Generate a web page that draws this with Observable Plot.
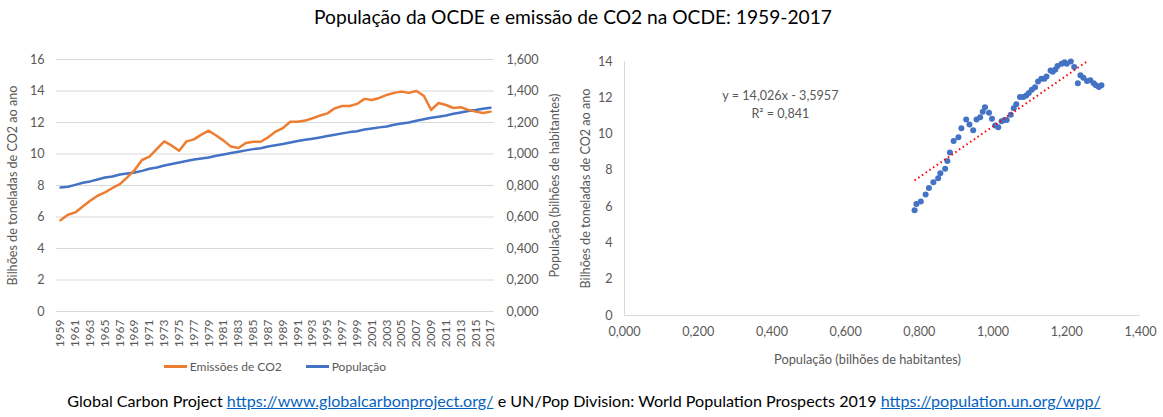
<!DOCTYPE html>
<html>
<head>
<meta charset="utf-8">
<script src="https://cdn.jsdelivr.net/npm/d3@7"></script>
<script src="https://cdn.jsdelivr.net/npm/@observablehq/plot@0.6"></script>
<style>
  html, body { margin: 0; padding: 0; background: #fff; }
  body { width: 1163px; height: 417px; position: relative; overflow: hidden; font-family: Lato, "Open Sans", sans-serif; }
  #title { position: absolute; top: 5px; left: 0; width: 1146px; text-align: center; font-size: 19.2px; color: #000; }
  #left { position: absolute; top: 40px; left: 0; }
  #right { position: absolute; top: 40px; left: 575px; }
  #legend { position: absolute; top: 356px; left: 0; width: 550px; text-align: center; font-size: 12px; color: #595959; }
  #legend span.item { display: inline-flex; align-items: center; margin: 0 12px; }
  #legend span.sw { display: inline-block; width: 23px; height: 3px; margin-right: 3px; }
  #footer { position: absolute; top: 391px; left: 0; width: 1168px; text-align: center; font-size: 16.1px; color: #000; }
  #footer a { color: #0563C1; text-decoration: underline; }
</style>
</head>
<body>
<div id="title"></div>
<div id="left"></div>
<div id="legend"></div>
<div id="right"></div>
<div id="footer"></div>
<script>
// ---------- data ----------
const years = d3.range(1959, 2018);
const co2 = [5.80, 6.14, 6.29, 6.67, 7.03, 7.35, 7.56, 7.84, 8.09, 8.52,
  8.98, 9.62, 9.83, 10.32, 10.80, 10.53, 10.21, 10.80, 10.93, 11.23,
  11.48, 11.17, 10.85, 10.47, 10.38, 10.70, 10.78, 10.78, 11.06, 11.42,
  11.65, 12.05, 12.05, 12.12, 12.27, 12.44, 12.58, 12.90, 13.05, 13.05,
  13.18, 13.50, 13.43, 13.56, 13.75, 13.88, 13.96, 13.88, 14.00, 13.70,
  12.80, 13.24, 13.11, 12.92, 12.97, 12.80, 12.69, 12.60, 12.69];
const population = [0.787, 0.792, 0.804, 0.817, 0.826, 0.838, 0.851, 0.857, 0.870, 0.876,
  0.883, 0.893, 0.906, 0.914, 0.927, 0.936, 0.946, 0.955, 0.965, 0.972,
  0.978, 0.989, 0.997, 1.006, 1.014, 1.023, 1.031, 1.037, 1.048, 1.056,
  1.063, 1.073, 1.082, 1.090, 1.097, 1.105, 1.114, 1.122, 1.131, 1.139,
  1.145, 1.156, 1.162, 1.169, 1.175, 1.186, 1.194, 1.200, 1.211, 1.220,
  1.230, 1.237, 1.245, 1.255, 1.264, 1.273, 1.279, 1.287, 1.294];
const yearTicks = years.filter(y => (y - 1959) % 2 === 0);
const leftCo2Ticks = [0, 2, 4, 6, 8, 10, 12, 14, 16];
const leftPopTicks = [0, 0.2, 0.4, 0.6, 0.8, 1.0, 1.2, 1.4, 1.6];
const scatterYTicks = [0, 2, 4, 6, 8, 10, 12, 14];
const scatterXTicks = [0, 0.2, 0.4, 0.6, 0.8, 1.0, 1.2, 1.4];
const trendSlope = 14.026;
const trendIntercept = -3.5957;
const trendLabel = "y = 14,026x - 3,5957\nR² = 0,841";
const seriesNames = ["Emissões de CO2", "População"];
const seriesColors = ["#ED7D31", "#4472C4"];
const titleText = "População da OCDE e emissão de CO2 na OCDE: 1959-2017";
const yTitle = "Bilhões de toneladas de CO2 ao ano";
const popTitle = "População (bilhões de habitantes)";

// ---------- build ----------
const rows = years.map((year, i) => ({year, co2: co2[i], pop: population[i]}));
const popFactor = 10; // left chart: population axis 0–1.6 aligned to CO2 axis 0–16
const fmt3 = d => d3.format(".3f")(d).replace(".", ",");

document.getElementById("title").textContent = titleText;

const style = {fontFamily: "Lato, 'Open Sans', sans-serif", fontSize: "12.6px", color: "#595959", background: "transparent", overflow: "visible"};

const left = Plot.plot({
  width: 575, height: 340,
  marginLeft: 60, marginRight: 85, marginTop: 19, marginBottom: 69,
  style,
  x: {domain: [1959, 2017]},
  y: {domain: [0, 16]},
  marks: [
    Plot.ruleY(leftCo2Ticks, {stroke: "#D9D9D9", strokeWidth: 1, insetLeft: -4, insetRight: -4}),
    Plot.axisY({ticks: leftCo2Ticks, tickSize: 0, tickPadding: 16, tickFormat: d => String(d),
      label: yTitle, labelAnchor: "center", labelArrow: "none", labelOffset: 52, fill: "#595959"}),
    Plot.axisY({anchor: "right", ticks: leftPopTicks.map(v => v * popFactor), tickSize: 0, tickPadding: 16,
      tickFormat: d => fmt3(d / popFactor),
      label: popTitle, labelAnchor: "center", labelArrow: "none", labelOffset: 68, fill: "#595959"}),
    Plot.axisX({ticks: yearTicks, tickSize: 0, tickPadding: 8, tickRotate: -90, tickFormat: d => String(d), label: null, fill: "#595959", fontSize: 12}),
    Plot.line(rows, {x: "year", y: d => d.pop * popFactor, stroke: seriesColors[1], strokeWidth: 2.5}),
    Plot.line(rows, {x: "year", y: "co2", stroke: seriesColors[0], strokeWidth: 2.5})
  ]
});
document.getElementById("left").appendChild(left);

document.getElementById("legend").innerHTML = seriesNames.map((n, i) =>
  `<span class="item"><span class="sw" style="background:${seriesColors[i]}"></span>${n}</span>`).join("");

const xExtent = d3.extent(population);
const trend = xExtent.map(x => ({x, y: trendSlope * x + trendIntercept}));

const right = Plot.plot({
  width: 588, height: 340,
  marginLeft: 49, marginRight: 23, marginTop: 21, marginBottom: 65,
  style,
  x: {domain: [0, 1.4]},
  y: {domain: [0, 14]},
  marks: [
    Plot.ruleY([0], {stroke: "#D9D9D9"}),
    Plot.ruleX([0], {stroke: "#D9D9D9"}),
    Plot.axisY({ticks: scatterYTicks, tickSize: 0, tickPadding: 12, tickFormat: d => String(d),
      label: yTitle, labelAnchor: "center", labelArrow: "none", labelOffset: 43, fill: "#595959"}),
    Plot.axisX({ticks: scatterXTicks, tickSize: 0, tickPadding: 12, tickFormat: fmt3, label: null, fill: "#595959"}),
    Plot.text([popTitle], {frameAnchor: "bottom", dy: 48, dx: -15, text: d => d, fill: "#595959", fontSize: 12.8}),
    Plot.dot(rows, {x: "pop", y: "co2", r: 3, fill: seriesColors[1], stroke: "none"}),
    Plot.line(trend, {x: "x", y: "y", stroke: "#FF0000", strokeWidth: 2, strokeDasharray: "1.5 3", strokeLinecap: "butt", clip: true}),
    Plot.text([trendLabel], {x: 0.423, y: 11.69, text: d => d, fill: "#595959", fontSize: 12.6, lineHeight: 1.4, textAnchor: "middle"})
  ]
});
document.getElementById("right").appendChild(right);

document.getElementById("footer").innerHTML =
  'Global Carbon Project <a href="#">https://www.globalcarbonproject.org/</a> e UN/Pop Division: World Population Prospects 2019 <a href="#">https://population.un.org/wpp/</a>';
</script>
</body>
</html>
